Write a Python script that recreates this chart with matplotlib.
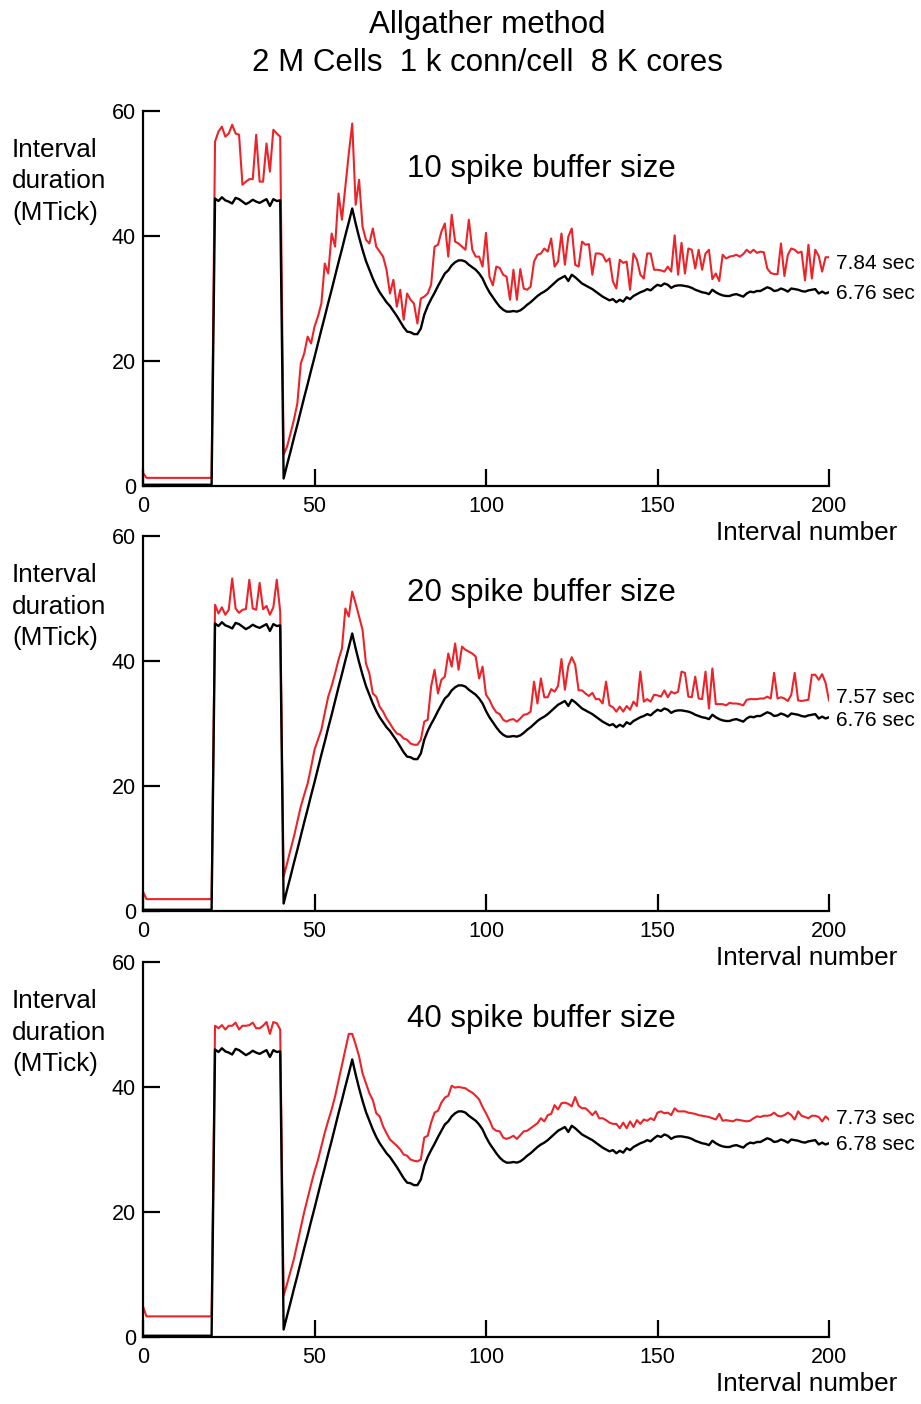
import numpy as np
import matplotlib
matplotlib.use("Agg")
import matplotlib.pyplot as plt

plt.rcParams['font.family'] = ['Liberation Sans', 'DejaVu Sans']

# interval durations in MTick, intervals 0..200
# black = reference run (same in all three panels)
baseline = [
    0.2, 0.2, 0.2, 0.2, 0.2, 0.2, 0.2, 0.2, 0.2, 0.2,
    0.2, 0.2, 0.2, 0.2, 0.2, 0.2, 0.2, 0.2, 0.2, 0.2,
    0.2, 46.0, 45.6, 46.2, 45.7, 45.5, 45.2, 46.1, 45.9, 45.5,
    45.1, 45.4, 45.8, 45.5, 45.3, 45.6, 45.9, 44.8, 45.9, 45.6,
    45.7, 1.2, 3.4, 5.5, 7.7, 9.8, 12.0, 14.2, 16.3, 18.5,
    20.6, 22.8, 25.0, 27.1, 29.3, 31.4, 33.6, 35.8, 37.9, 40.1,
    42.2, 44.4, 42.0, 39.8, 37.8, 36.0, 34.6, 33.2, 32.0, 31.0,
    30.2, 29.4, 28.8, 28.0, 27.2, 26.3, 25.4, 24.7, 24.6, 24.3,
    24.3, 25.2, 27.4, 28.8, 29.9, 30.9, 32.0, 33.0, 34.0, 34.5,
    35.3, 35.8, 36.1, 36.1, 35.9, 35.4, 35.0, 34.6, 34.0, 33.2,
    32.0, 31.0, 30.2, 29.4, 28.7, 28.2, 27.9, 27.9, 28.0, 27.9,
    28.1, 28.5, 29.0, 29.4, 29.9, 30.4, 30.8, 31.1, 31.5, 32.0,
    32.5, 33.0, 33.3, 33.6, 32.8, 33.8, 33.4, 32.9, 32.4, 32.1,
    31.8, 31.5, 31.1, 30.7, 30.3, 30.0, 29.7, 29.9, 29.4, 29.8,
    29.5, 30.2, 29.9, 30.4, 30.7, 31.0, 31.2, 31.5, 31.3, 31.8,
    32.2, 32.0, 32.4, 32.2, 31.7, 32.0, 32.1, 32.1, 32.0, 31.9,
    31.7, 31.4, 31.2, 31.0, 30.9, 30.7, 31.4, 31.0, 30.7, 30.5,
    30.4, 30.4, 30.6, 30.7, 30.5, 30.3, 30.8, 31.1, 31.0, 31.2,
    31.2, 31.5, 31.8, 31.6, 31.2, 31.3, 31.6, 31.4, 31.1, 31.6,
    31.5, 31.4, 31.2, 31.1, 31.3, 31.4, 31.5, 30.8, 31.1, 30.8,
    31.0,
]

# red = spike exchange with buffer of 10 spikes
buf10 = [
    2.1, 1.3, 1.3, 1.3, 1.3, 1.3, 1.3, 1.3, 1.3, 1.3,
    1.3, 1.3, 1.3, 1.3, 1.3, 1.3, 1.3, 1.3, 1.3, 1.3,
    1.3, 55.1, 56.7, 57.5, 55.9, 56.4, 57.8, 56.4, 56.2, 48.2,
    48.7, 49.1, 49.1, 56.2, 48.7, 48.7, 54.8, 50.3, 57.0, 56.4,
    55.9, 5.0, 6.3, 8.4, 10.6, 13.2, 19.6, 21.2, 23.9, 22.8,
    25.5, 27.1, 29.2, 35.6, 34.0, 40.4, 38.3, 46.8, 42.6, 47.9,
    53.2, 58.0, 45.0, 49.0, 41.5, 39.4, 38.8, 41.2, 38.3, 37.5,
    36.7, 34.6, 30.8, 33.0, 28.7, 31.4, 26.6, 30.8, 29.8, 29.2,
    26.0, 30.0, 30.3, 30.8, 32.2, 38.3, 38.6, 40.7, 42.0, 36.7,
    43.4, 39.1, 38.8, 38.3, 37.8, 42.6, 37.8, 36.7, 36.7, 35.1,
    40.5, 33.5, 32.1, 35.1, 34.9, 33.8, 33.5, 29.8, 34.6, 29.8,
    34.7, 31.6, 31.4, 31.9, 35.9, 37.0, 37.2, 38.0, 37.5, 39.6,
    35.1, 35.9, 40.4, 35.4, 39.9, 41.2, 35.4, 35.1, 39.1, 38.6,
    38.7, 33.8, 37.2, 37.2, 37.0, 35.9, 36.4, 32.7, 31.6, 36.2,
    35.7, 35.9, 31.4, 37.2, 36.2, 33.8, 33.2, 37.2, 37.2, 34.6,
    34.6, 34.5, 34.3, 35.1, 34.3, 40.1, 33.8, 38.9, 34.0, 38.0,
    37.8, 34.8, 37.8, 34.6, 37.2, 37.8, 33.1, 34.0, 32.8, 37.0,
    36.4, 36.7, 36.8, 37.0, 36.7, 37.1, 37.8, 37.3, 37.8, 37.3,
    37.5, 37.4, 34.8, 34.1, 33.9, 33.9, 38.8, 33.6, 37.0, 38.0,
    37.8, 37.3, 37.5, 32.9, 38.6, 33.2, 37.8, 36.8, 34.3, 36.6,
    36.6,
]

buf20 = [
    3.1, 1.9, 1.9, 1.9, 1.9, 1.9, 1.9, 1.9, 1.9, 1.9,
    1.9, 1.9, 1.9, 1.9, 1.9, 1.9, 1.9, 1.9, 1.9, 1.9,
    1.9, 49.0, 47.6, 48.6, 47.4, 48.2, 53.2, 48.4, 47.7, 48.2,
    48.3, 53.0, 48.4, 48.2, 52.5, 48.3, 48.8, 47.4, 48.6, 53.0,
    47.9, 5.5, 7.6, 9.8, 11.9, 14.3, 16.7, 18.6, 20.4, 23.0,
    25.8, 27.4, 29.0, 31.7, 34.3, 36.0, 38.0, 40.2, 42.0, 48.4,
    47.1, 51.1, 49.2, 47.1, 45.0, 39.6, 38.0, 34.8, 34.3, 32.7,
    31.9, 30.8, 30.0, 29.1, 28.4, 28.2, 27.6, 27.4, 26.8, 26.6,
    26.6, 27.4, 30.3, 30.6, 35.9, 38.6, 34.8, 37.0, 37.5, 41.2,
    39.1, 42.8, 38.6, 42.3, 41.8, 41.5, 41.2, 40.7, 37.2, 39.1,
    34.6, 33.8, 32.6, 31.8, 31.5, 30.6, 30.3, 30.6, 30.7, 30.3,
    30.8, 31.4, 31.5, 31.9, 36.7, 33.2, 37.2, 34.2, 34.2, 35.5,
    35.1, 36.0, 40.3, 35.4, 39.2, 40.6, 39.4, 35.3, 35.3, 34.8,
    34.4, 34.9, 33.9, 33.9, 33.2, 36.7, 32.9, 32.6, 31.9, 32.7,
    31.9, 32.8, 32.2, 33.5, 32.8, 38.3, 33.5, 33.9, 33.5, 34.6,
    34.5, 34.3, 35.3, 34.2, 35.1, 34.8, 35.1, 38.3, 38.1, 34.3,
    34.2, 37.5, 34.0, 33.9, 38.3, 32.4, 38.8, 33.1, 33.1, 33.1,
    32.9, 33.3, 33.2, 33.2, 33.1, 32.9, 33.8, 33.9, 33.9, 33.9,
    34.0, 34.0, 34.3, 34.0, 38.1, 34.0, 34.2, 34.0, 33.6, 34.6,
    38.1, 33.7, 33.6, 33.7, 33.8, 37.8, 37.8, 37.0, 37.9, 36.5,
    33.7,
]

buf40 = [
    4.9, 3.3, 3.3, 3.3, 3.3, 3.3, 3.3, 3.3, 3.3, 3.3,
    3.3, 3.3, 3.3, 3.3, 3.3, 3.3, 3.3, 3.3, 3.3, 3.3,
    3.3, 49.8, 49.4, 49.9, 49.2, 49.8, 49.8, 50.3, 49.2, 49.8,
    49.8, 49.9, 50.3, 49.4, 49.4, 49.8, 50.4, 48.5, 50.4, 50.2,
    49.2, 6.6, 8.5, 10.5, 12.5, 15.0, 17.5, 20.0, 22.2, 24.4,
    26.5, 28.3, 30.5, 32.7, 34.6, 36.4, 38.5, 41.0, 43.5, 46.0,
    48.5, 48.5, 46.8, 44.9, 42.2, 40.6, 39.0, 37.9, 35.8, 35.3,
    33.7, 32.6, 31.6, 31.1, 30.6, 30.0, 29.2, 29.0, 28.4, 28.2,
    28.1, 28.4, 31.9, 32.2, 34.3, 35.9, 36.2, 37.5, 38.3, 38.6,
    40.2, 39.9, 40.0, 39.9, 39.8, 39.4, 39.1, 38.6, 38.0, 36.8,
    35.8, 34.7, 33.4, 33.0, 32.9, 31.9, 31.7, 31.9, 32.2, 31.7,
    32.3, 32.9, 33.0, 33.4, 33.8, 34.2, 35.0, 34.5, 35.5, 35.7,
    37.1, 36.4, 37.4, 37.5, 37.3, 36.9, 38.4, 37.0, 36.6, 36.6,
    36.1, 35.5, 36.1, 35.0, 35.0, 34.7, 34.3, 34.1, 34.1, 33.4,
    34.3, 33.4, 34.5, 33.6, 34.7, 34.1, 34.8, 34.6, 35.0, 34.7,
    35.9, 36.1, 35.8, 35.9, 35.5, 36.6, 36.1, 36.1, 36.1, 35.9,
    35.8, 35.7, 35.5, 35.4, 35.3, 35.2, 35.0, 34.8, 35.7, 34.6,
    34.7, 34.6, 34.5, 34.8, 34.7, 34.6, 34.5, 34.6, 35.0, 35.3,
    35.2, 35.4, 35.4, 35.5, 35.9, 35.4, 35.3, 35.5, 35.9, 35.5,
    34.8, 36.1, 35.4, 35.2, 35.0, 35.4, 35.4, 35.2, 34.5, 35.3,
    34.8,
]

panelTitles = ["10 spike buffer size", "20 spike buffer size", "40 spike buffer size"]
redTimes = ["7.84 sec", "7.57 sec", "7.73 sec"]
blackTimes = ["6.76 sec", "6.76 sec", "6.78 sec"]
redSeries = [buf10, buf20, buf40]

# label positions (data y of the baseline)
redLabelY = [34.7, 33.3, 34.0]
blackLabelY = [29.9, 29.6, 30.0]

RED = '#ec2329'
W, H = 921, 1404
fig = plt.figure(figsize=(W / 100, H / 100), dpi=100)

fig.text(487 / W, 1 - 33 / H, "Allgather method", ha='center', va='baseline', fontsize=22.5)
fig.text(487 / W, 1 - 71 / H, "2 M Cells  1 k conn/cell  8 K cores", ha='center', va='baseline', fontsize=22.5)

zeroRows = [486, 911, 1337]   # pixel row of y=0 for each panel
for k in range(3):
    y0 = zeroRows[k]
    ax = fig.add_axes([143 / W, (H - y0) / H, 686 / W, 375 / H])
    ax.patch.set_visible(False)
    x = np.arange(len(baseline))
    ax.plot(x, redSeries[k], color=RED, lw=1.5, zorder=2)
    ax.plot(x, baseline, color='black', lw=1.7, zorder=3)
    ax.set_xlim(0, 200)
    ax.set_ylim(0, 60)
    ax.set_xticks([0, 50, 100, 150, 200])
    ax.set_yticks([0, 20, 40, 60])
    for s in ['top', 'right']:
        ax.spines[s].set_visible(False)
    for s in ['left', 'bottom']:
        ax.spines[s].set_linewidth(1.6)
    ax.tick_params(direction='in', length=12, width=1.6, labelsize=15.5)
    ax.tick_params(axis='x', pad=7)
    ax.tick_params(axis='y', pad=5)

    ax.text(77, 50.8, panelTitles[k], fontsize=22.5, va='center', ha='left')
    ax.text(202, redLabelY[k], redTimes[k], fontsize=15, va='baseline', ha='left', clip_on=False)
    ax.text(202, blackLabelY[k], blackTimes[k], fontsize=15, va='baseline', ha='left', clip_on=False)
    ax.text(220, -8.6, "Interval number", fontsize=18.8, ha='right', va='baseline', clip_on=False)

    for j, line in enumerate(["Interval", "duration", "(MTick)"]):
        ax.text(-38.2, 52.6 - j * 5.0, line, fontsize=18.8, ha='left', va='baseline', clip_on=False)

fig.savefig("out.png", dpi=100)
